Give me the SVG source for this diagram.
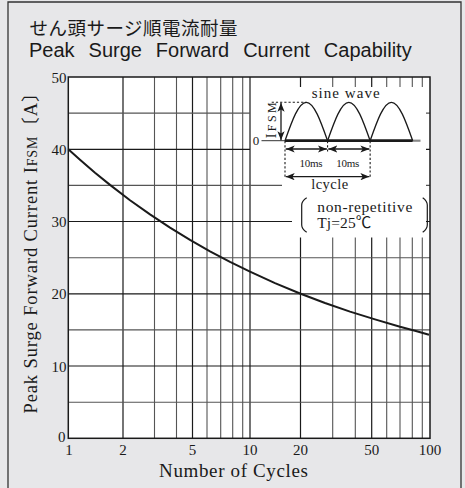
<svg xmlns="http://www.w3.org/2000/svg" width="465" height="488" viewBox="0 0 465 488">
<style>
.ser{font-family:"Liberation Serif","Times New Roman","Noto Sans CJK JP",serif;fill:#1a1a1a}
.maj{stroke:#1a1a1a;stroke-width:1.2;fill:none}
.min{stroke:#555;stroke-width:1.1;fill:none}
.dash{stroke:#1a1a1a;stroke-width:1.1;stroke-dasharray:2.2 2;fill:none}
.arr{stroke:#1a1a1a;stroke-width:1.3;fill:none;marker-start:url(#ah);marker-end:url(#ah)}
.tick{font-size:15px}
</style>
<defs>
<marker id="ah" viewBox="0 0 10 8" refX="10" refY="4" markerWidth="9" markerHeight="7.2" markerUnits="userSpaceOnUse" orient="auto-start-reverse">
<path d="M0,0 L10,4 L0,8 L2.5,4 z" fill="#1a1a1a"/>
</marker>
<path id="hump" d="M0,0 C6.94,-19.67 13.58,-38.4 21.285,-38.4 C28.99,-38.4 35.63,-19.67 42.57,0" fill="none" stroke="#1a1a1a" stroke-width="1.3"/>
</defs>
<rect x="0" y="0" width="465" height="488" fill="#e7e7e9"/>
<path d="M8,490 V2 H461 V490" fill="none" stroke="#333" stroke-width="1.3"/>
<g id="title">
<text x="29.5" y="35" font-family="'Noto Sans CJK JP',sans-serif" font-size="18.5" textLength="208" lengthAdjust="spacing" fill="#1a1a1a">せん頭サージ順電流耐量</text>
<text x="29" y="56.5" font-family="'Liberation Sans',Arial,sans-serif" font-size="20" word-spacing="8.4" fill="#1a1a1a">Peak Surge Forward Current Capability</text>
</g>
<g id="plot">
<rect x="68.3" y="77" width="361.7" height="361.3" fill="#fff"/>
<g id="grid">
<path class="maj" d="M123,77V438.3 M192.5,77V438.3 M250,77V438.3 M300.5,77V87 M300.5,237.5V438.3 M371.7,77V87 M371.7,237.5V438.3"/>
<path class="min" d="M154.5,77V438.3 M176.5,77V438.3 M207,77V438.3 M220.7,77V438.3 M232.7,77V438.3 M242.7,77V438.3 M332.7,77V87 M332.7,237.5V438.3 M355.3,77V87 M355.3,237.5V438.3 M386.7,77V87 M386.7,237.5V438.3 M400,77V87 M400,237.5V438.3 M412.3,77V87 M412.3,237.5V438.3 M422.3,77V87 M422.3,237.5V438.3"/>
<path class="maj" d="M68.3,366H430 M68.3,293.8H430 M68.3,221.5H292 M426,221.5H430 M68.3,149.3H250 M426,149.3H430"/>
<path class="min" d="M68.3,402.2H430 M68.3,329.9H430 M68.3,257.7H430 M68.3,185.4H282 M426,185.4H430 M68.3,113.1H250 M426,113.1H430"/>
</g>
<rect x="68.3" y="77" width="361.7" height="361.3" fill="none" stroke="#1a1a1a" stroke-width="1.5"/>
<polyline id="curve" points="68.3,149.3 80,159.8 95,172.7 110,184.9 130,200.2 150,214.4 170,227.6 190,239.9 210,251.3 230,261.9 250,271.7 275,283.1 300,293.5 325,303 350,311.6 375,319.4 400,326.7 415,330.7 429,334.8" fill="none" stroke="#1a1a1a" stroke-width="2" stroke-linejoin="round"/>
</g>
<g id="yaxis" class="ser tick" text-anchor="end">
<text x="66.5" y="82.5">50</text>
<text x="66.5" y="154.8">40</text>
<text x="66.5" y="227">30</text>
<text x="66.5" y="299.3">20</text>
<text x="66.5" y="371.5">10</text>
<text x="65.5" y="441.5">0</text>
</g>
<g id="xaxis" class="ser tick" text-anchor="middle">
<text x="69" y="455">1</text>
<text x="123" y="455">2</text>
<text x="192.5" y="455">5</text>
<text x="250" y="455">10</text>
<text x="300.5" y="455">20</text>
<text x="371.7" y="455">50</text>
<text x="430" y="455">100</text>
</g>
<text class="ser" x="233.5" y="476.5" font-size="19" text-anchor="middle" textLength="149" lengthAdjust="spacing">Number of Cycles</text>
<text class="ser" transform="translate(37,248.5) rotate(-90)" font-size="18.5" text-anchor="middle" textLength="330" lengthAdjust="spacing">Peak Surge Forward Current I<tspan font-size="14">FSM</tspan>〔A〕</text>
<g id="inset">
<g id="waveform">
<path d="M261.5,140.7H285" stroke="#333" stroke-width="1"/>
<path d="M412.7,140.7H420.5" stroke="#888" stroke-width="2.2"/>
<path d="M285,140.7H412.7" stroke="#1a1a1a" stroke-width="2.8"/>
<use href="#hump" x="285" y="140.7"/>
<use href="#hump" x="327.57" y="140.7"/>
<use href="#hump" x="370.13" y="140.7"/>
<text class="ser" x="311.7" y="97.5" font-size="15" textLength="68" lengthAdjust="spacing">sine wave</text>
<text class="ser" x="252.7" y="145" font-size="13">0</text>
</g>
<g id="ifsm">
<path class="dash" d="M271.7,102.3H306.3"/>
<path class="arr" d="M281,102.8V140.2"/>
<text class="ser" transform="translate(276,120.3) rotate(-90)" font-size="14" text-anchor="middle" textLength="36" lengthAdjust="spacing">I<tspan font-size="12">FSM</tspan></text>
</g>
<g id="timing">
<path class="dash" d="M285,141V176.7 M327.57,141V153.3 M370.13,141V176.7"/>
<path class="arr" d="M285.7,149H326.9"/>
<path class="arr" d="M328.3,149H369.4"/>
<path class="arr" d="M285.7,176.7H369.4"/>
<text class="ser" x="311" y="166.7" font-size="11" text-anchor="middle" textLength="23" lengthAdjust="spacing">10ms</text>
<text class="ser" x="347.7" y="166.7" font-size="11" text-anchor="middle" textLength="23" lengthAdjust="spacing">10ms</text>
<text class="ser" x="329.7" y="189.3" font-size="14.5" text-anchor="middle" textLength="37" lengthAdjust="spacing">lcycle</text>
</g>
<g id="condition">
<path d="M306.7,197.7 Q301.7,201 301.7,205 V225 Q301.7,229 306.7,232.3" fill="none" stroke="#1a1a1a" stroke-width="1.2"/>
<path d="M422.7,197.7 Q427.3,201 427.3,205 V225 Q427.3,229 422.7,232.3" fill="none" stroke="#1a1a1a" stroke-width="1.2"/>
<text class="ser" x="317.3" y="211.7" font-size="15.5" textLength="95" lengthAdjust="spacing">non-repetitive</text>
<text class="ser" x="317.3" y="228.3" font-size="15.5" textLength="54" lengthAdjust="spacing">Tj=25℃</text>
</g>
</g>
</svg>
